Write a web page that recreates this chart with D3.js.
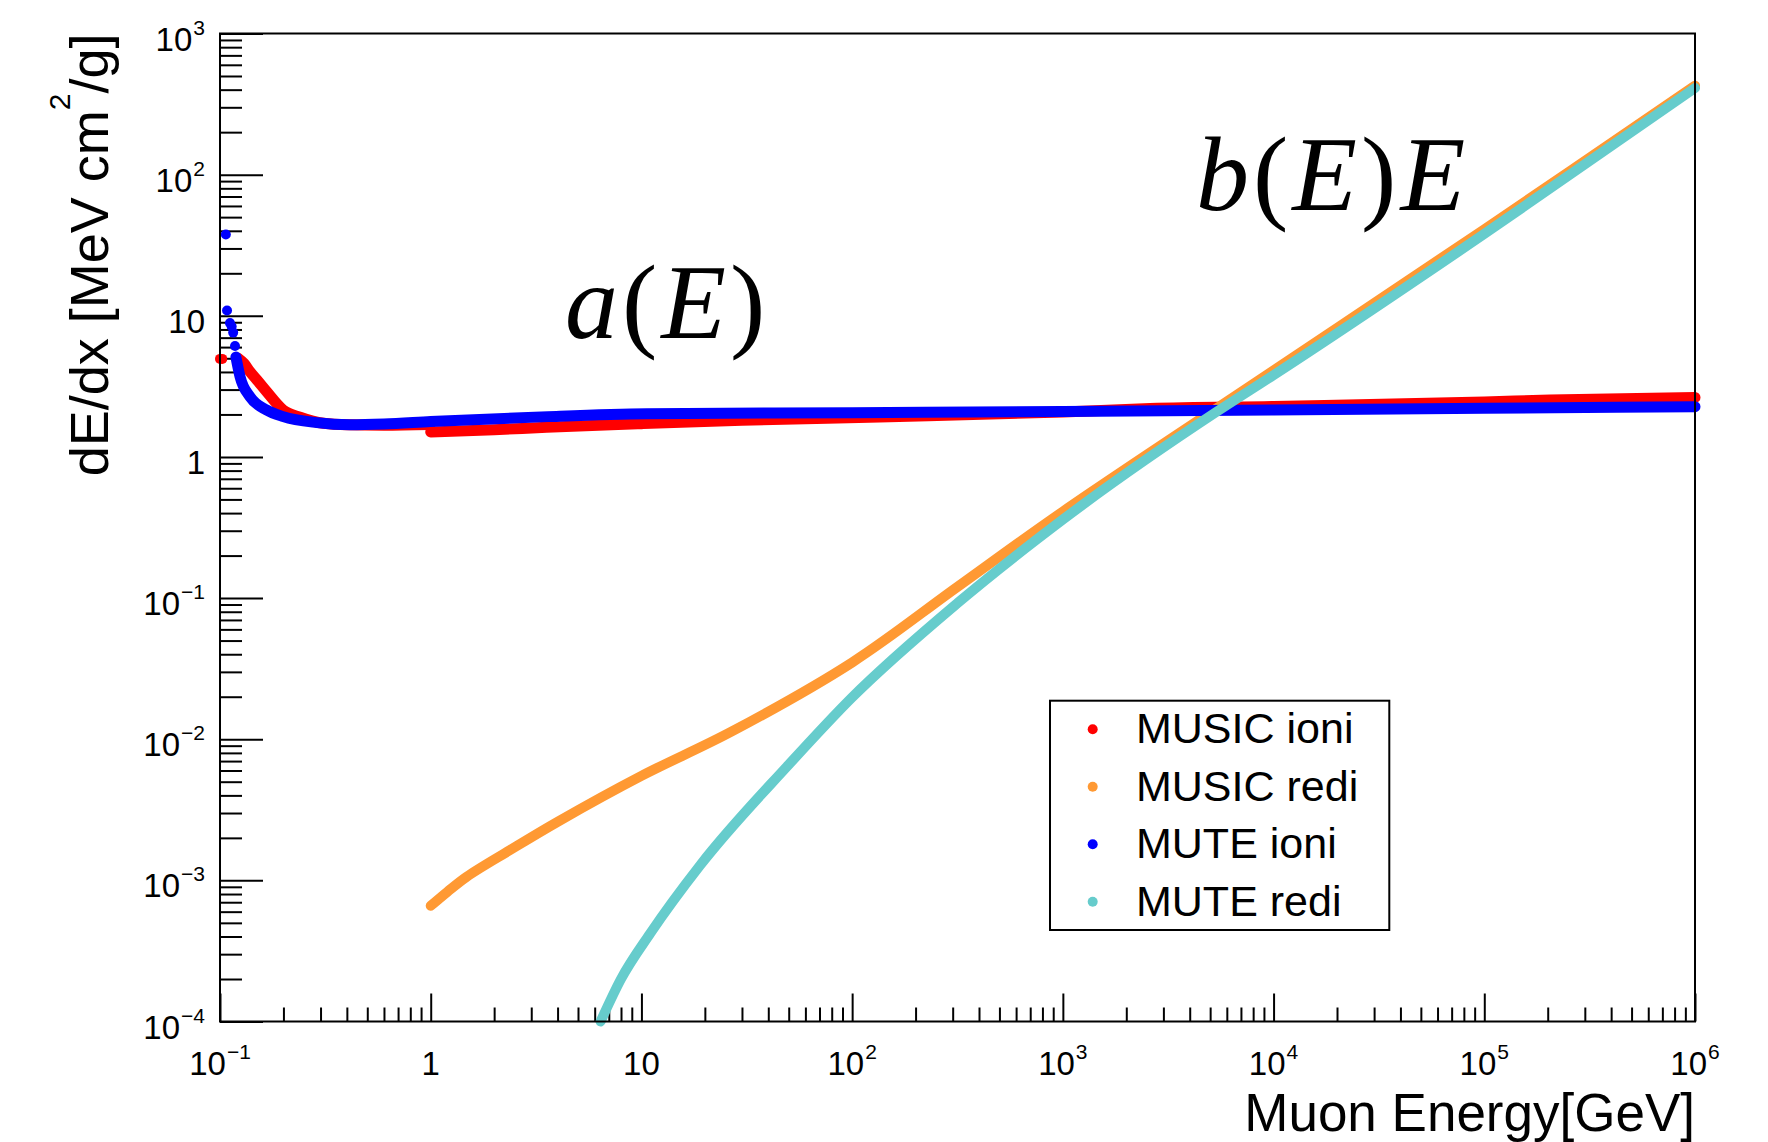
<!DOCTYPE html>
<html><head><meta charset="utf-8">
<script src="https://cdn.jsdelivr.net/npm/d3@7"></script>
<style>body{margin:0;background:#fff;} svg{display:block}</style>
</head><body><svg id="c" width="1768" height="1142"></svg>
<script>
// ---------------- data ----------------
const xTickExps = [-1, 0, 1, 2, 3, 4, 5, 6];
const yTickExps = [-4, -3, -2, -1, 0, 1, 2, 3];

const musicIoniDotE = [0.1, 0.1025];
const musicIoniDotV = [4.95, 4.95];
const musicIoniLowE = [0.122, 0.13, 0.139, 0.15, 0.1665, 0.1995, 0.24, 0.31, 0.4, 0.6, 0.99];
const musicIoniLowV = [5.0, 4.6, 4.0, 3.5, 2.9, 2.15, 1.91, 1.73, 1.69, 1.68, 1.70];
const musicIoniHighE = [1.0, 2, 3.55, 10, 30, 135, 1000, 2600, 1e4, 1e5, 2.05e5, 1e6];
const musicIoniHighV = [1.50, 1.56, 1.62, 1.72, 1.82, 1.92, 2.08, 2.20, 2.28, 2.45, 2.53, 2.64];

const musicRediE = [1, 1.2, 1.48, 2.38, 4, 10, 27, 100, 316, 1000, 1e4, 1e5, 1e6];
const musicRediV = [6.6e-4, 8.3e-4, 1.06e-3, 1.64e-3, 2.6e-3, 5.5e-3, 0.0114, 0.035, 0.12, 0.41, 4.1, 41, 427];

const muteIoniDotE = [0.1066, 0.108, 0.1115, 0.1136, 0.1155, 0.1178];
const muteIoniDotV = [37.7, 10.9, 8.9, 8.4, 7.6, 6.1];
const muteIoniE = [0.119, 0.1245, 0.1388, 0.1665, 0.1995, 0.288, 0.414, 0.6, 1.0, 3.6, 10.6, 100, 1000, 1e4, 1e5, 1e6];
const muteIoniV = [5.1, 3.7, 2.67, 2.15, 1.93, 1.75, 1.69, 1.71, 1.78, 1.93, 2.02, 2.06, 2.10, 2.15, 2.21, 2.27];

const muteRediE = [6.4, 8, 11, 19, 50, 99, 316, 1000, 5400, 1e4, 1e5, 1e6];
const muteRediV = [1e-4, 2.0e-4, 4.2e-4, 1.28e-3, 6.6e-3, 0.0195, 0.092, 0.36, 2.1, 3.8, 38, 411];

const legendNames = ["MUSIC ioni", "MUSIC redi", "MUTE ioni", "MUTE redi"];
const legendColors = ["#ff0000", "#ff9933", "#0000ff", "#66cccc"];

// ---------------- drawing ----------------
const svg = d3.select("#c");
svg.append("rect").attr("width", 1768).attr("height", 1142).attr("fill", "#fff");

const x = d3.scaleLog().domain([0.1, 1e6]).range([220, 1695]);
const y = d3.scaleLog().domain([1e-4, 1e3]).range([1021.5, 33.5]);

function minors(lo, hi) {
  const out = [];
  for (let k = Math.floor(Math.log10(lo)); k < Math.ceil(Math.log10(hi)); k++)
    for (let m = 2; m <= 9; m++) { const v = m * Math.pow(10, k); if (v > lo && v < hi) out.push(v); }
  return out;
}
const font = "'Liberation Sans', Arial, Helvetica, sans-serif";

// ticks
const gx = svg.append("g").attr("transform", "translate(0,1021.5)");
gx.append("g").call(d3.axisBottom(x).tickValues(xTickExps.map(e => Math.pow(10, e))).tickSize(-28).tickSizeOuter(0).tickFormat(""));
gx.append("g").call(d3.axisBottom(x).tickValues(minors(0.1, 1e6)).tickSize(-14).tickSizeOuter(0).tickFormat(""));
const gy = svg.append("g").attr("transform", "translate(220,0)");
gy.append("g").call(d3.axisLeft(y).tickValues(yTickExps.map(e => Math.pow(10, e))).tickSize(-43).tickSizeOuter(0).tickFormat(""));
gy.append("g").call(d3.axisLeft(y).tickValues(minors(1e-4, 1e3)).tickSize(-22).tickSizeOuter(0).tickFormat(""));
svg.selectAll(".domain").remove();
svg.selectAll(".tick line").attr("stroke", "#000").attr("stroke-width", 2);

// tick labels
function addPow(t, e) {
  if (e === 0) { t.text("1"); return; }
  if (e === 1) { t.text("10"); return; }
  t.append("tspan").text("10");
  t.append("tspan").attr("dy", -16).attr("dx", 1).attr("font-size", 21).text(e < 0 ? "\u2212" + (-e) : String(e));
}
yTickExps.forEach(e => {
  const t = svg.append("text").attr("x", 205).attr("y", y(Math.pow(10, e)) + 17)
    .attr("text-anchor", "end").attr("font-family", font).attr("font-size", 33).attr("fill", "#000");
  addPow(t, e);
});
xTickExps.forEach(e => {
  const t = svg.append("text").attr("x", x(Math.pow(10, e))).attr("y", 1075)
    .attr("text-anchor", "middle").attr("font-family", font).attr("font-size", 33).attr("fill", "#000");
  addPow(t, e);
});

// axis titles
svg.append("text").attr("x", 1695).attr("y", 1131).attr("text-anchor", "end")
  .attr("font-family", font).attr("font-size", 53).attr("fill", "#000").text("Muon Energy[GeV]");
const yt = svg.append("text").attr("transform", "translate(108,33.5) rotate(-90)").attr("text-anchor", "end")
  .attr("font-family", font).attr("font-size", 54).attr("fill", "#000");
yt.append("tspan").text("dE/dx [MeV cm");
yt.append("tspan").attr("font-size", 30).attr("dy", -38).text("2");
yt.append("tspan").attr("dy", 38).text("/g]");

// series
const lineM = d3.line().x(d => x(d[0])).y(d => y(d[1])).curve(d3.curveMonotoneX);
const lineC = d3.line().x(d => x(d[0])).y(d => y(d[1])).curve(d3.curveCatmullRom.alpha(0.5));
function zip(a, b) { return a.map((v, i) => [v, b[i]]); }
function drawLine(E, V, col, gen, w) {
  svg.append("path").attr("d", gen(zip(E, V))).attr("fill", "none").attr("stroke", col)
    .attr("stroke-width", w).attr("stroke-linecap", "round").attr("stroke-linejoin", "round");
}
function drawDots(E, V, col) {
  svg.append("g").selectAll("circle").data(zip(E, V)).join("circle")
    .attr("cx", d => x(d[0])).attr("cy", d => y(d[1])).attr("r", 5).attr("fill", col);
}
drawDots(musicIoniDotE, musicIoniDotV, legendColors[0]);
drawLine(musicIoniLowE, musicIoniLowV, legendColors[0], lineM, 11);
drawLine(musicIoniHighE, musicIoniHighV, legendColors[0], lineM, 11);
drawLine(musicRediE, musicRediV, legendColors[1], lineC, 10);
drawDots(muteIoniDotE, muteIoniDotV, legendColors[2]);
drawLine(muteIoniE, muteIoniV, legendColors[2], lineM, 11);
drawLine(muteRediE, muteRediV, legendColors[3], lineM, 10);

// frame
svg.append("rect").attr("x", 220).attr("y", 33.5).attr("width", 1475).attr("height", 988)
  .attr("fill", "none").attr("stroke", "#000").attr("stroke-width", 2);

// annotations
const serif = "'Liberation Serif', 'Times New Roman', Times, serif";
function formula(x0, y0, parts) {
  const t = svg.append("text").attr("x", x0).attr("y", y0).attr("font-family", serif).attr("font-size", 106)
    .attr("letter-spacing", 4).attr("fill", "#000");
  parts.forEach(p => t.append("tspan").attr("font-style", p[1] ? "italic" : "normal").text(p[0]));
}
formula(565, 338, [["a", true], ["(", false], ["E", true], [")", false]]);
formula(1196, 210, [["b", true], ["(", false], ["E", true], [")", false], ["E", true]]);

// legend
const lg = svg.append("g");
lg.append("rect").attr("x", 1050).attr("y", 700.7).attr("width", 339.3).attr("height", 229.3)
  .attr("fill", "#fff").attr("stroke", "#000").attr("stroke-width", 2);
legendNames.forEach((n, i) => {
  lg.append("circle").attr("cx", 1092.7).attr("cy", 729.3 + i * 57.5).attr("r", 5).attr("fill", legendColors[i]);
  lg.append("text").attr("x", 1136).attr("y", 743.3 + i * 57.5).attr("font-family", font)
    .attr("font-size", 43).attr("fill", "#000").text(n);
});
</script></body></html>
